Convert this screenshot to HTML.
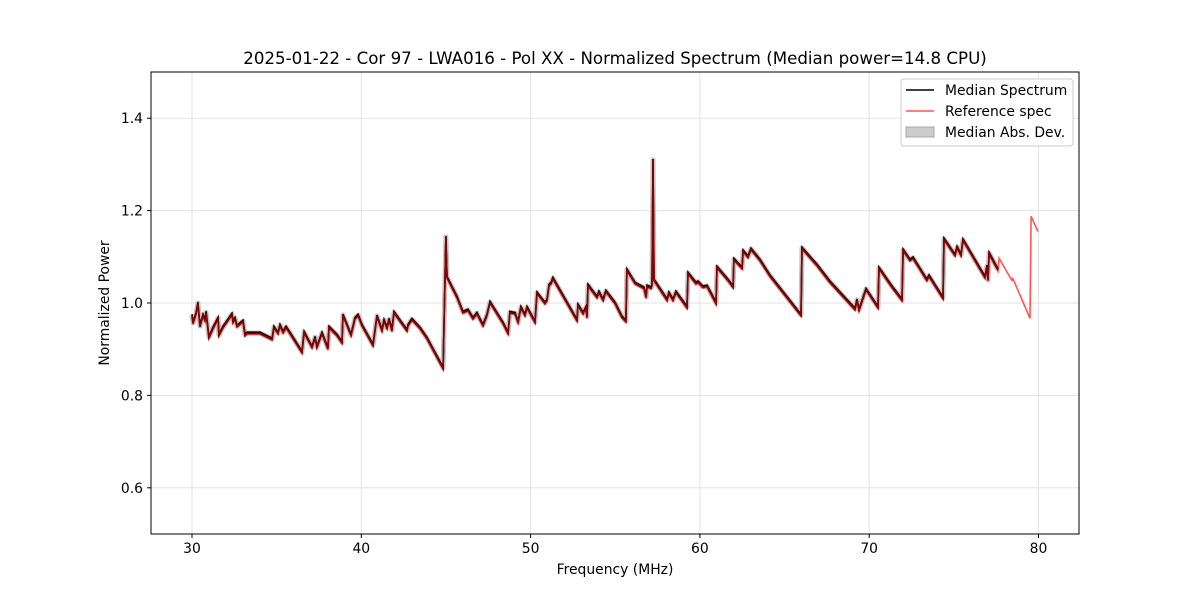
<!DOCTYPE html>
<html><head><meta charset="utf-8"><style>
body{margin:0;background:#fff;font-family:"DejaVu Sans","Liberation Sans",sans-serif}
</style></head><body>
<svg id="chart" width="1200" height="600" xmlns="http://www.w3.org/2000/svg" font-family="DejaVu Sans, Liberation Sans, sans-serif">
<rect width="1200" height="600" fill="#fff"/>
<text x="615" y="64" font-size="16.67" text-anchor="middle">2025-01-22 - Cor 97 - LWA016 - Pol XX - Normalized Spectrum (Median power=14.8 CPU)</text>
<g id="grid"></g><g id="ticks"></g><g id="series"></g>
<rect x="151" y="72" width="928" height="462" fill="none" stroke="#000" stroke-width="1"/>
<text x="615" y="574" font-size="13.9" text-anchor="middle">Frequency (MHz)</text>
<text transform="translate(109,303) rotate(-90)" font-size="13.9" text-anchor="middle">Normalized Power</text>
<g>
<rect x="901" y="79" width="172" height="67" rx="3" fill="#fff" stroke="#ccc"/>
<line x1="906" y1="90" x2="934" y2="90" stroke="#000" stroke-width="1.5"/>
<text x="945" y="95" font-size="13.9">Median Spectrum</text>
<line x1="906" y1="111" x2="934" y2="111" stroke="#ff5555" stroke-width="1.5"/>
<text x="945" y="116" font-size="13.9">Reference spec</text>
<rect x="906" y="127" width="28" height="10" fill="#ccc" stroke="#aaa"/>
<text x="945" y="137" font-size="13.9">Median Abs. Dev.</text>
</g>
</svg>
<script>
const freqs=[30.00,30.06,30.24,30.35,30.47,30.65,30.77,30.83,31.00,31.18,31.24,31.54,31.59,31.83,32.36,32.42,32.54,32.66,33.01,33.13,33.25,34.02,34.73,34.84,35.08,35.20,35.38,35.55,35.79,36.50,36.62,37.09,37.27,37.38,37.68,38.03,38.09,38.56,38.86,38.92,39.39,39.63,39.81,40.04,40.69,40.93,41.22,41.34,41.52,41.64,41.81,41.93,42.34,42.70,42.76,42.99,43.47,43.88,44.83,45.00,45.06,45.65,46.01,46.30,46.60,46.83,47.19,47.42,47.60,48.37,48.67,48.78,49.08,49.26,49.43,49.67,49.79,50.26,50.38,50.85,50.97,51.09,51.21,51.32,52.74,52.80,53.10,53.27,53.33,53.39,53.92,54.04,54.28,54.45,54.99,55.40,55.63,55.69,56.17,56.70,56.82,56.88,57.11,57.17,57.23,57.29,58.06,58.17,58.41,58.59,59.24,59.30,59.77,59.89,60.18,60.42,60.71,60.95,61.01,61.66,61.96,62.01,62.49,62.55,62.84,63.02,63.55,64.14,65.97,66.03,66.92,67.68,69.16,69.28,69.40,69.81,70.52,70.58,71.35,71.94,72.00,72.41,72.59,73.41,73.53,74.36,74.42,75.07,75.19,75.42,75.54,76.84,76.96,77.02,77.08,77.61];
const median=[0.974,0.957,0.978,1.000,0.950,0.974,0.963,0.980,0.926,0.941,0.946,0.967,0.931,0.948,0.976,0.959,0.967,0.950,0.961,0.931,0.935,0.935,0.922,0.948,0.935,0.952,0.937,0.948,0.935,0.894,0.937,0.905,0.926,0.905,0.935,0.902,0.948,0.931,0.915,0.974,0.931,0.967,0.974,0.952,0.909,0.972,0.941,0.963,0.946,0.965,0.941,0.980,0.959,0.941,0.952,0.965,0.946,0.924,0.859,1.143,1.056,1.013,0.980,0.985,0.967,0.978,0.952,0.974,1.002,0.957,0.935,0.980,0.978,0.959,0.991,0.974,0.991,0.959,1.022,1.000,1.007,1.039,1.043,1.054,0.963,0.996,0.978,0.991,0.970,1.039,1.013,1.024,1.007,1.026,1.000,0.970,0.961,1.072,1.043,1.033,1.013,1.037,1.033,1.039,1.310,1.050,1.007,1.022,1.007,1.024,0.991,1.065,1.043,1.046,1.035,1.037,1.017,1.000,1.078,1.050,1.035,1.095,1.076,1.113,1.100,1.117,1.093,1.059,0.974,1.119,1.082,1.046,0.987,1.007,0.985,1.030,0.991,1.076,1.035,1.007,1.115,1.093,1.098,1.050,1.059,1.011,1.139,1.104,1.121,1.104,1.137,1.056,1.080,1.050,1.108,1.072];
const refTailFreqs=[77.67,78.43,78.49,79.50,79.56,79.97];
const refTailValues=[1.100,1.052,1.056,0.970,1.191,1.158];
const xTicks=[30,40,50,60,70,80];
const yTicks=[0.6,0.8,1.0,1.2,1.4];
const NS="http://www.w3.org/2000/svg";
const X=f=>192+(f-30)*16.93;
const Y=v=>534-(v-0.5)*462;
function mk(tag,attrs,parent){const e=document.createElementNS(NS,tag);for(const k in attrs)e.setAttribute(k,attrs[k]);parent.appendChild(e);return e;}
const grid=document.getElementById('grid'),ticks=document.getElementById('ticks'),series=document.getElementById('series');
xTicks.forEach(t=>{
 const g=mk('line',{x1:X(t),x2:X(t),y1:72,y2:534,stroke:'#e3e3e3'},grid);
 
 
 mk('line',{x1:X(t),x2:X(t),y1:534,y2:538,stroke:'#000'},ticks);
 const l=mk('text',{x:X(t),y:553,'font-size':13.9,'text-anchor':'middle'},ticks);l.textContent=t;
 
 
});
yTicks.forEach(t=>{
 const g=mk('line',{x1:151,x2:1079,y1:Y(t),y2:Y(t),stroke:'#e3e3e3'},grid);
 
 
 mk('line',{x1:147,x2:151,y1:Y(t),y2:Y(t),stroke:'#000'},ticks);
 const l=mk('text',{x:143,y:Y(t)+5,'font-size':13.9,'text-anchor':'end'},ticks);l.textContent=t.toFixed(1);
 
 
});
const medPts=freqs.map((f,i)=>X(f).toFixed(1)+','+Y(median[i]).toFixed(1));
const refPts=medPts.concat(refTailFreqs.map((f,i)=>X(f).toFixed(1)+','+Y(refTailValues[i]).toFixed(1)));
const band=mk('polyline',{points:medPts.join(' '),fill:'none',stroke:'#c4c4c4','stroke-width':5,'stroke-linejoin':'round'},series);


const ref=mk('polyline',{points:refPts.join(' '),fill:'none',stroke:'#ff5555','stroke-width':1.6,transform:'translate(0,1.5)'},series);


const med=mk('polyline',{points:medPts.join(' '),fill:'none',stroke:'#000','stroke-width':1.6,transform:'translate(0,-0.8)'},series);


const ov=mk('polyline',{points:medPts.join(' '),fill:'none',stroke:'#8a0000','stroke-width':1.6,transform:'translate(0,0.6)'},series);


</script>
</body></html>
